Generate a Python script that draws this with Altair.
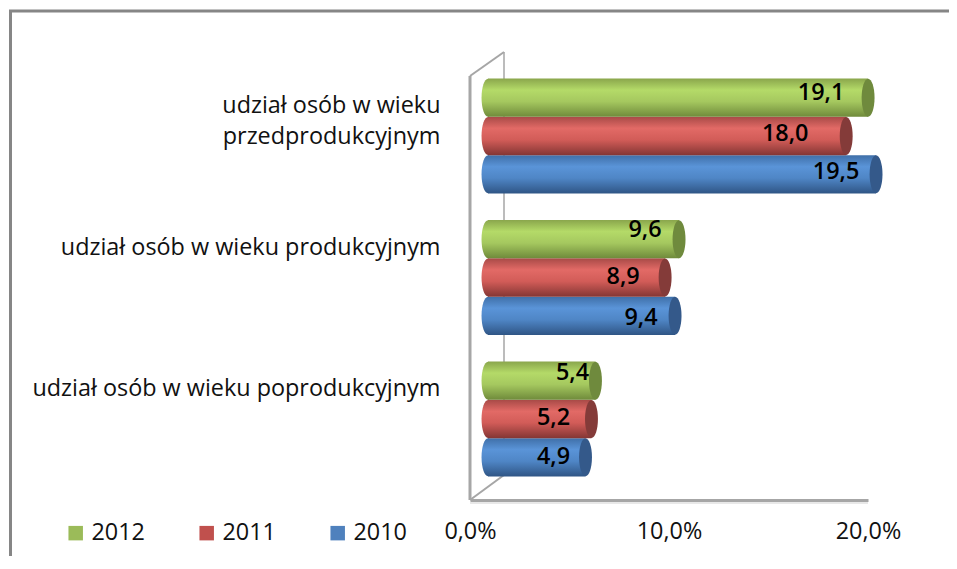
import altair as alt
import pandas as pd

categories = ["udział osób w wieku|przedprodukcyjnym",
              "udział osób w wieku produkcyjnym",
              "udział osób w wieku poprodukcyjnym"]
years = ["2012", "2011", "2010"]
values_2012 = [19.1, 9.6, 5.4]
values_2011 = [18.0, 8.9, 5.2]
values_2010 = [19.5, 9.4, 4.9]
x_ticks = [0, 10, 20]

series = {"2012": values_2012, "2011": values_2011, "2010": values_2010}
rows = [{"cat": c, "year": y, "v": series[y][i], "zero": 0}
        for y in years for i, c in enumerate(categories)]
df = pd.DataFrame(rows)

# ---- styling / layout ----
FONT = "Open Sans"
FS = 23.4
WALL = "#a6a6a6"
FRAME = "#868686"
legend_cols = ["#9bbb59", "#c0504d", "#4f81bd"]
styles = {
    "2012": (["#8aa64c", "#b4da68", "#a5c85f", "#6f8a3b"], "#6f8a3d"),
    "2011": (["#a84a47", "#e26a66", "#d25c58", "#843634"], "#843b39"),
    "2010": (["#3f6fa8", "#5a94d8", "#4f86c6", "#2f5585"], "#34598a"),
}
label_shift = {  # (dx, dy) of the hand-placed data labels
    ("2012", 0): (-47, -5), ("2011", 0): (-61, -2), ("2010", 0): (-40, -2),
    ("2012", 1): (-34, -9), ("2011", 1): (-42, -1), ("2010", 1): (-34, 2),
    ("2012", 2): (-23, -8), ("2011", 2): (-38, -1), ("2010", 2): (-32, 0),
}
DEPTH = 18
ELLIPSE = "M0,-1A0.34,1,0,1,1,0,1A0.34,1,0,1,1,0,-1Z"
CAP = 38 ** 2


def grad(stops):
    return alt.LinearGradient(
        gradient="linear", x1=0, x2=0, y1=0, y2=1,
        stops=[alt.GradientStop(offset=o, color=c)
               for o, c in zip([0, 0.3, 0.6, 1], stops)])


x_scale = alt.Scale(domain=[0, 20], range=[462, 860], nice=False, clamp=False)
y_scale = alt.Scale(domain=categories, range=[57.25, 481.75], paddingInner=0, paddingOuter=0)
yo_scale = alt.Scale(domain=years, paddingInner=0, paddingOuter=0.347)

x_axis = alt.Axis(
    values=x_ticks, labelExpr="replace(format(datum.value, '.1f'), '.', ',') + '%'",
    grid=False, ticks=False, domain=True, domainColor=WALL, domainWidth=3,
    labelFont=FONT, labelFontSize=FS, labelColor="#111", labelPadding=20,
    labelFlush=False, labelOverlap=False)
x_plain = alt.X("v:Q", scale=x_scale, title=None, axis=x_axis)
x_zero = alt.X("zero:Q", scale=x_scale, title=None, axis=x_axis)
y_plain = alt.Y("cat:N", scale=y_scale, title=None, sort=categories, axis=alt.Axis(
    labelExpr="split(datum.label, '|')", offset=-462, ticks=False, domain=False, grid=False,
    labelFont=FONT, labelFontSize=FS, labelColor="#111", labelPadding=30,
    labelBaseline="top", labelOffset=-41, labelLineHeight=31, labelLimit=0,
    labelAlign="right"))
yo = alt.YOffset("year:N", scale=yo_scale, sort=years)


def guide(x, x2, y, y2, color=WALL, width=2):
    return alt.Chart(pd.DataFrame({"a": [0]})).mark_rule(color=color, strokeWidth=width).encode(
        x=alt.value(x - 8), x2=alt.value(x2 - 8), y=alt.value(y - 8), y2=alt.value(y2 - 8))


layers = [
    guide(10.5, 10.5, 11, 569, FRAME, 3),
    guide(9, 957, 11, 11, FRAME, 3),
    guide(504, 504, 52, 476, WALL, 1.5),
    guide(470, 470, 76, 500, WALL, 3),
    guide(470, 504, 76, 52),
    guide(470, 504, 500, 475),
    guide(470, 868, 503, 503, "#e8e8e8", 2),
]

# axes and legend carrier
layers.append(alt.Chart(df).mark_square(opacity=0, size=1).encode(
    x=x_plain, y=y_plain, yOffset=yo,
    color=alt.Color("year:N", scale=alt.Scale(domain=years, range=legend_cols), sort=years,
                    legend=alt.Legend(
                        title=None, orient="none", legendX=56, legendY=513, direction="horizontal",
                        columns=3, symbolType="square", symbolSize=210, symbolOpacity=1,
                        symbolStrokeWidth=0, labelFont=FONT, labelFontSize=FS, labelColor="#111",
                        columnPadding=50, labelOffset=4, padding=0))))

for year in reversed(years):
    sub = df[df.year == year]
    stops, cap = styles[year]
    g = grad(stops)
    base = alt.Chart(sub)
    layers.append(base.mark_point(shape=ELLIPSE, filled=True, fill=g, opacity=1, size=CAP,
                                  strokeWidth=0, xOffset=DEPTH).encode(
        x=x_zero, y=y_plain, yOffset=yo))
    layers.append(base.mark_bar(fill=g, xOffset=DEPTH, x2Offset=DEPTH).encode(
        x=x_plain, x2=alt.X2("zero:Q"), y=y_plain, yOffset=yo))
    layers.append(base.mark_point(shape=ELLIPSE, filled=True, fill=cap, opacity=1, size=CAP,
                                  strokeWidth=0, xOffset=DEPTH).encode(
        x=x_plain, y=y_plain, yOffset=yo))

for (year, i), (dx, dy) in label_shift.items():
    sub = df[(df.year == year) & (df.cat == categories[i])]
    layers.append(alt.Chart(sub).transform_calculate(
        t="replace(format(datum.v, '.1f'), '.', ',')"
    ).mark_text(font=FONT, fontSize=FS, fontWeight=600, color="#000", align="center",
                baseline="middle", dx=DEPTH + dx, dy=dy).encode(
        x=x_plain, y=y_plain, yOffset=yo, text="t:N"))

chart = alt.layer(*layers).properties(
    width=941, height=492,
    background="white",
    view=alt.ViewBackground(stroke="transparent", strokeWidth=0),
    autosize=alt.AutoSizeParams(type="none"),
    padding={"left": 0, "top": 0, "right": 0, "bottom": 56},
)

chart.save("out.html", embed_options={"renderer": "svg", "actions": False})
